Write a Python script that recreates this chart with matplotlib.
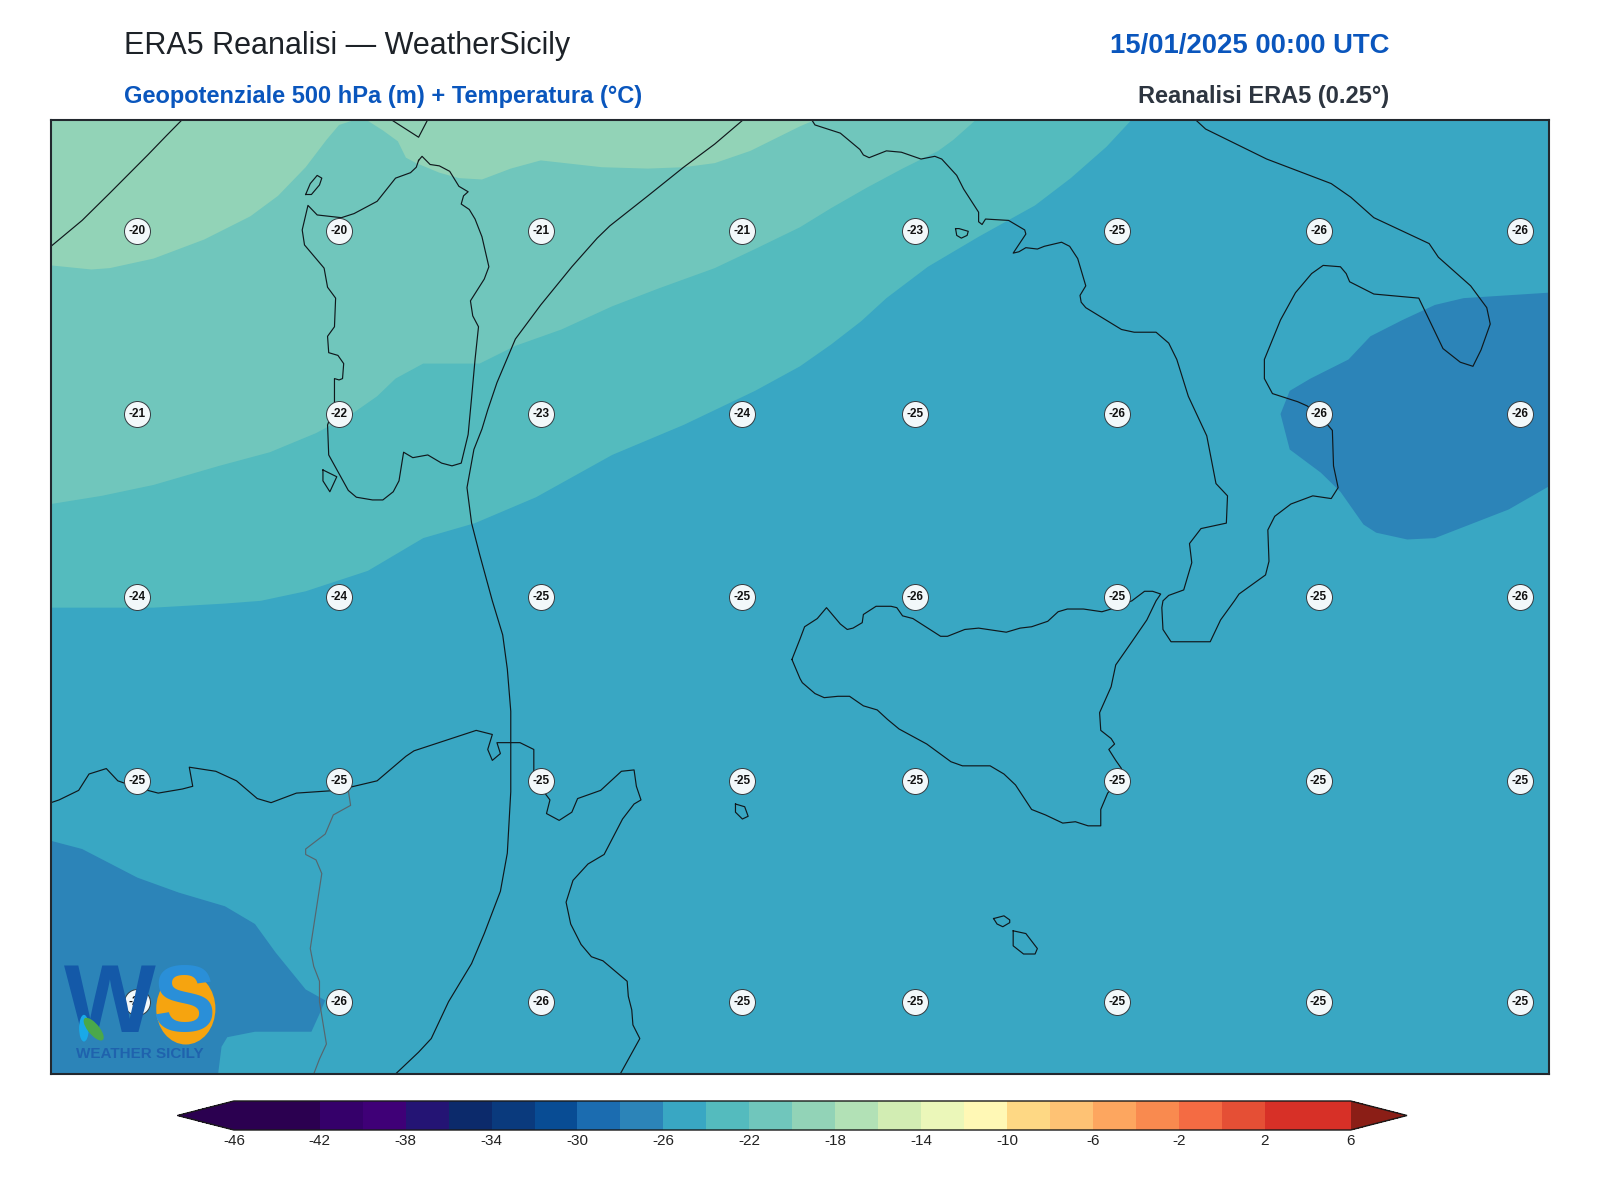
import matplotlib
matplotlib.use("Agg")
import matplotlib.pyplot as plt
from matplotlib.colors import BoundaryNorm, ListedColormap
from matplotlib.cm import ScalarMappable
from matplotlib.patches import Ellipse

plt.rcParams['font.family'] = ['Liberation Sans', 'DejaVu Sans']

# ---------- extent ----------
LON_MIN, LON_MAX, LAT_MIN, LAT_MAX = 6.0, 19.0, 35.0, 42.0

# ---------- temperature levels and colours ----------
levels = list(range(-46, 8, 2))
tick_values = list(range(-46, 10, 4))
band_colors = ['#2b0050', '#2b0050', '#35006a', '#3f0077', '#241474', '#0c2a6b', '#0a3a7d', '#084c94',
               '#1b6cb0', '#2c84b8', '#39a7c3', '#54bbbe', '#70c6bc', '#92d3b7', '#b2e1b6', '#d2edb3',
               '#ebf7b9', '#fff8b5', '#fed884', '#fec274', '#fda65f', '#f98a4f', '#f46b43', '#e54f35',
               '#d73027', '#d73027']
under_color = '#2b0050'
over_color = '#8b1e16'

# ---------- isotherms ----------
iso_m20_lon = [6.00, 6.35, 6.51, 6.89, 7.33, 7.73, 7.97, 8.21, 8.39, 8.50, 8.61, 8.75, 8.88, 9.01, 9.08, 9.17, 9.37,
               9.54, 9.74, 9.99, 10.25, 10.78, 11.18, 11.49, 11.76, 12.07, 12.50, 12.64]
iso_m20_lat = [40.93, 40.90, 40.91, 40.98, 41.12, 41.29, 41.44, 41.65, 41.85, 41.96, 41.99, 41.99, 41.92, 41.84, 41.72,
               41.68, 41.61, 41.57, 41.56, 41.64, 41.70, 41.65, 41.64, 41.65, 41.68, 41.77, 41.95, 42.00]
iso_m22_lon = [6.00, 6.44, 6.89, 7.46, 7.90, 8.30, 8.61, 8.83, 8.99, 9.23, 9.72, 10.03, 10.43, 10.87, 11.27, 11.76,
               12.11, 12.50, 12.77, 13.08, 13.39, 13.70, 13.83, 14.03]
iso_m22_lat = [39.18, 39.24, 39.32, 39.46, 39.56, 39.70, 39.84, 39.97, 40.10, 40.21, 40.21, 40.34, 40.46, 40.63, 40.76,
               40.91, 41.05, 41.21, 41.35, 41.50, 41.64, 41.77, 41.85, 42.00]
iso_m24_lon = [6.00, 6.89, 7.51, 7.82, 8.21, 8.75, 9.23, 9.68, 10.21, 10.87, 11.49, 12.11, 12.50, 12.77, 13.03, 13.25,
               13.61, 14.05, 14.54, 14.85, 15.16, 15.38]
iso_m24_lat = [38.42, 38.42, 38.45, 38.47, 38.54, 38.69, 38.93, 39.04, 39.23, 39.54, 39.76, 40.01, 40.19, 40.35, 40.52,
               40.69, 40.92, 41.14, 41.37, 41.57, 41.80, 42.00]
cold_east_lon = [19.0, 18.26, 18.01, 17.73, 17.45, 17.26, 16.93, 16.75, 16.67, 16.75, 17.02, 17.19, 17.39, 17.50,
                 17.77, 18.01, 18.65, 19.0]
cold_east_lat = [40.73, 40.69, 40.64, 40.53, 40.41, 40.24, 40.10, 40.01, 39.84, 39.58, 39.41, 39.27, 39.03, 38.97,
                 38.92, 38.93, 39.14, 39.31]
cold_west_lon = [6.00, 6.27, 6.75, 7.11, 7.51, 7.77, 7.95, 8.21, 8.38, 8.33, 8.26, 7.77, 7.53, 7.48, 7.45, 6.00]
cold_west_lat = [36.71, 36.65, 36.44, 36.33, 36.23, 36.10, 35.89, 35.62, 35.54, 35.44, 35.31, 35.31, 35.27, 35.20,
                 35.00, 35.00]

# ---------- geopotential isolines ----------
geo_a_lon = [7.14, 7.00, 6.84, 6.51, 6.27, 6.00]
geo_a_lat = [42.00, 41.88, 41.74, 41.46, 41.26, 41.07]
geo_b_lon = [12.01, 11.76, 11.49, 11.18, 10.85, 10.74, 10.52, 10.25, 10.03, 9.87, 9.79, 9.74, 9.67, 9.61, 9.65, 9.72,
             9.83, 9.92, 9.96, 9.99, 9.99, 9.96, 9.90, 9.76, 9.65, 9.45, 9.30, 9.19, 8.99]
geo_b_lat = [42.00, 41.82, 41.65, 41.44, 41.22, 41.13, 40.92, 40.64, 40.39, 40.07, 39.87, 39.73, 39.58, 39.30, 39.04,
             38.81, 38.47, 38.22, 37.97, 37.66, 37.07, 36.62, 36.34, 36.03, 35.81, 35.53, 35.26, 35.16, 35.00]

# ---------- coastlines ----------
sardinia_lon = [9.19, 9.22, 9.29, 9.37, 9.46, 9.54, 9.62, 9.58, 9.56, 9.63, 9.68, 9.74, 9.80, 9.76, 9.64, 9.66, 9.71,
                9.68, 9.65, 9.62, 9.56, 9.48, 9.39, 9.27, 9.14, 9.06, 9.02, 8.97, 8.88, 8.79, 8.65, 8.58, 8.41, 8.40,
                8.46, 8.46, 8.50, 8.53, 8.54, 8.49, 8.41, 8.40, 8.46, 8.47, 8.40, 8.37, 8.30, 8.20, 8.18, 8.23, 8.31,
                8.52, 8.63, 8.83, 8.99, 9.12, 9.17, 9.19]
sardinia_lat = [41.70, 41.73, 41.67, 41.66, 41.62, 41.51, 41.47, 41.44, 41.38, 41.34, 41.27, 41.14, 40.92, 40.83, 40.67,
                40.56, 40.48, 40.24, 39.96, 39.69, 39.48, 39.46, 39.48, 39.54, 39.52, 39.56, 39.35, 39.27, 39.21, 39.21,
                39.23, 39.28, 39.54, 39.76, 39.90, 40.10, 40.09, 40.10, 40.21, 40.27, 40.29, 40.41, 40.48, 40.69, 40.77,
                40.91, 40.98, 41.08, 41.19, 41.37, 41.30, 41.28, 41.31, 41.40, 41.57, 41.61, 41.65, 41.70]
asinara_lon = [8.21, 8.25, 8.31, 8.35, 8.33, 8.26, 8.21]
asinara_lat = [41.45, 41.53, 41.59, 41.57, 41.52, 41.45, 41.45]
antioco_lon = [8.36, 8.48, 8.42, 8.36, 8.36]
antioco_lat = [39.43, 39.38, 39.27, 39.35, 39.43]
corsica_lon = [8.95, 9.19, 9.27]
corsica_lat = [42.00, 41.87, 42.00]
italy_lon = [12.60, 12.63, 12.85, 13.02, 13.05, 13.10, 13.19, 13.25, 13.38, 13.55, 13.67, 13.73, 13.86, 13.92, 14.05,
             14.05, 14.08, 14.11, 14.31, 14.45, 14.46, 14.35, 14.40, 14.46, 14.56, 14.62, 14.77, 14.84, 14.91, 14.98,
             14.93, 14.94, 14.98, 15.29, 15.40, 15.59, 15.70, 15.77, 15.87, 16.03, 16.11, 16.21, 16.20, 15.98, 15.88,
             15.90, 15.83, 15.70, 15.65, 15.64, 15.65, 15.72, 16.06, 16.15, 16.27, 16.31, 16.54, 16.57, 16.56, 16.62,
             16.76, 16.95, 17.11, 17.17, 17.13, 17.12, 17.02, 16.90, 16.82, 16.60, 16.53, 16.53, 16.67, 16.80, 16.94,
             17.04, 17.19, 17.24, 17.27, 17.48, 17.87, 18.08, 18.23, 18.34, 18.41, 18.49, 18.46, 18.32, 18.04, 17.96,
             17.48, 17.28, 17.11, 16.55, 16.02, 15.93]
italy_lat = [42.00, 41.96, 41.90, 41.78, 41.74, 41.72, 41.75, 41.77, 41.76, 41.71, 41.73, 41.71, 41.59, 41.49, 41.32,
             41.25, 41.23, 41.27, 41.26, 41.19, 41.16, 41.02, 41.03, 41.06, 41.05, 41.07, 41.10, 41.07, 40.98, 40.78,
             40.71, 40.66, 40.62, 40.46, 40.44, 40.44, 40.36, 40.24, 39.97, 39.68, 39.33, 39.24, 39.04, 39.00, 38.89,
             38.75, 38.55, 38.51, 38.47, 38.42, 38.26, 38.17, 38.17, 38.33, 38.47, 38.52, 38.66, 38.76, 38.99, 39.09,
             39.18, 39.24, 39.22, 39.30, 39.46, 39.72, 39.82, 39.90, 39.93, 39.99, 40.10, 40.24, 40.53, 40.73, 40.87,
             40.93, 40.92, 40.87, 40.81, 40.72, 40.69, 40.32, 40.22, 40.19, 40.31, 40.50, 40.62, 40.78, 40.99, 41.09,
             41.28, 41.43, 41.53, 41.71, 41.93, 42.00]
ischia_lon = [13.85, 13.88, 13.96, 13.95, 13.90, 13.86, 13.85]
ischia_lat = [41.20, 41.20, 41.18, 41.15, 41.13, 41.15, 41.20]
sicily_lon = [12.43, 12.50, 12.52, 12.63, 12.71, 12.83, 12.93, 13.05, 13.17, 13.26, 13.36, 13.60, 13.81, 13.91, 14.15,
              14.27, 14.37, 14.51, 14.63, 14.78, 14.89, 15.00, 15.11, 15.11, 15.17, 15.25, 15.29, 15.24, 15.18, 15.23,
              15.20, 15.11, 15.10, 15.20, 15.24, 15.38, 15.51, 15.59, 15.63, 15.56, 15.49, 15.38, 15.20, 15.12, 14.96,
              14.82, 14.74, 14.65, 14.51, 14.41, 14.29, 14.05, 13.93, 13.78, 13.72, 13.48, 13.39, 13.34, 13.29, 13.16,
              13.05, 13.04, 12.96, 12.91, 12.85, 12.73, 12.65, 12.54, 12.50, 12.43]
sicily_lat = [38.04, 37.90, 37.87, 37.79, 37.76, 37.77, 37.77, 37.70, 37.67, 37.60, 37.53, 37.42, 37.29, 37.26, 37.26,
              37.20, 37.12, 36.94, 36.90, 36.84, 36.85, 36.82, 36.82, 36.94, 37.06, 37.14, 37.24, 37.30, 37.38, 37.42,
              37.46, 37.52, 37.65, 37.84, 38.00, 38.17, 38.33, 38.47, 38.52, 38.54, 38.54, 38.47, 38.41, 38.39, 38.41,
              38.41, 38.39, 38.32, 38.28, 38.27, 38.24, 38.27, 38.26, 38.21, 38.21, 38.34, 38.36, 38.42, 38.43, 38.43,
              38.37, 38.31, 38.27, 38.26, 38.30, 38.42, 38.34, 38.28, 38.19, 38.04]
pantelleria_lon = [11.94, 12.02, 12.05, 12.00, 11.94, 11.94]
pantelleria_lat = [36.98, 36.96, 36.89, 36.87, 36.92, 36.98]
gozo_lon = [14.18, 14.27, 14.32, 14.32, 14.26, 14.21, 14.18]
gozo_lat = [36.14, 36.16, 36.13, 36.11, 36.08, 36.10, 36.14]
malta_lon = [14.35, 14.46, 14.56, 14.54, 14.44, 14.35, 14.35]
malta_lat = [36.05, 36.03, 35.92, 35.88, 35.88, 35.94, 36.05]
africa_lon = [6.00, 6.07, 6.24, 6.33, 6.48, 6.58, 6.75, 6.93, 7.14, 7.23, 7.20, 7.43, 7.61, 7.79, 7.91, 8.13, 8.48, 8.83,
              9.08, 9.15, 9.69, 9.83, 9.79, 9.83, 9.90, 9.87, 10.07, 10.19, 10.19, 10.25, 10.33, 10.30, 10.41, 10.52,
              10.57, 10.77, 10.95, 11.06, 11.08, 11.12, 11.06, 10.96, 10.80, 10.66, 10.53, 10.47, 10.51, 10.60, 10.69,
              10.79, 11.00, 11.01, 11.04, 11.05, 11.11, 10.94]
africa_lat = [36.99, 37.01, 37.08, 37.20, 37.24, 37.15, 37.10, 37.06, 37.09, 37.11, 37.25, 37.22, 37.15, 37.02, 36.99,
              37.06, 37.08, 37.15, 37.33, 37.37, 37.52, 37.49, 37.38, 37.30, 37.35, 37.43, 37.43, 37.38, 37.21, 37.10,
              37.01, 36.91, 36.86, 36.92, 37.02, 37.08, 37.22, 37.23, 37.11, 37.01, 36.98, 36.87, 36.61, 36.54, 36.42,
              36.26, 36.10, 35.95, 35.86, 35.83, 35.68, 35.57, 35.47, 35.36, 35.26, 35.00]
border_lon = [8.58, 8.60, 8.45, 8.38, 8.21, 8.21, 8.30, 8.35, 8.29, 8.25, 8.28, 8.33, 8.33, 8.39, 8.33, 8.28]
border_lat = [37.08, 36.97, 36.90, 36.76, 36.65, 36.61, 36.57, 36.47, 36.14, 35.92, 35.79, 35.68, 35.53, 35.22, 35.11,
              35.00]

# ---------- temperature labels ----------
label_lons = [6.75, 8.50, 10.25, 12.00, 13.50, 15.25, 17.00, 18.75]
label_lats = [41.18, 39.84, 38.50, 37.15, 35.53]
label_values = [
    [-20, -20, -21, -21, -23, -25, -26, -26],
    [-21, -22, -23, -24, -25, -26, -26, -26],
    [-24, -24, -25, -25, -26, -25, -25, -26],
    [-25, -25, -25, -25, -25, -25, -25, -25],
    [-26, -26, -26, -25, -25, -25, -25, -25],
]

# ---------- figure ----------
W, H = 1600, 1200
fig = plt.figure(figsize=(16, 12), dpi=100, facecolor='white')
ax = fig.add_axes([51 / W, 1 - 1074 / H, 1498 / W, 954.5 / H])
ax.set_xlim(LON_MIN, LON_MAX)
ax.set_ylim(LAT_MIN, LAT_MAX)
ax.set_xticks([])
ax.set_yticks([])
for s in ax.spines.values():
    s.set_linewidth(1.5)
    s.set_color('#22282e')
    s.set_zorder(10)

cmap = ListedColormap(band_colors)
cmap.set_under(under_color)
cmap.set_over(over_color)
norm = BoundaryNorm(levels, cmap.N)


def band_fill(lons, lats, value, close_corners=True):
    xs, ys = list(lons), list(lats)
    if close_corners:
        xs += [LON_MAX, LON_MAX, LON_MIN]
        ys += [LAT_MAX, LAT_MIN, LAT_MIN]
    ax.fill(xs, ys, color=cmap(norm(value)), lw=0, zorder=1)


ax.set_facecolor(cmap(norm(-19)))
band_fill(iso_m20_lon, iso_m20_lat, -21)
band_fill(iso_m22_lon, iso_m22_lat, -23)
band_fill(iso_m24_lon, iso_m24_lat, -25)
band_fill(cold_east_lon, cold_east_lat, -27, close_corners=False)
band_fill(cold_west_lon, cold_west_lat, -27, close_corners=False)

for lo, la in [(geo_a_lon, geo_a_lat), (geo_b_lon, geo_b_lat), (sardinia_lon, sardinia_lat),
               (asinara_lon, asinara_lat), (antioco_lon, antioco_lat), (corsica_lon, corsica_lat),
               (italy_lon, italy_lat), (ischia_lon, ischia_lat), (sicily_lon, sicily_lat),
               (pantelleria_lon, pantelleria_lat), (gozo_lon, gozo_lat), (malta_lon, malta_lat),
               (africa_lon, africa_lat)]:
    ax.plot(lo, la, color='#10181c', lw=0.85, zorder=2, solid_joinstyle='round')
ax.plot(border_lon, border_lat, color='#56666e', lw=0.85, zorder=2)

for la, row in zip(label_lats, label_values):
    for lo, v in zip(label_lons, row):
        ax.scatter([lo], [la], s=350, facecolor='#f2f8fa', edgecolor='#333b40', linewidth=0.7, zorder=3)
        ax.text(lo, la, str(v), ha='center', va='center', fontsize=8.5, fontweight='bold', color='#111111', zorder=4)

# ---------- logo (redrawn as shapes and text) ----------
tr = ax.transAxes
ax.add_patch(Ellipse((0.0900, 0.0684), 0.0395, 0.0750, transform=tr, facecolor='#f6a40f', edgecolor='none', zorder=5))
ax.text(0.0395, 0.0706, 'W', transform=tr, ha='center', va='center', fontsize=70, fontweight='bold', color='#1459a8',
        zorder=6)
ax.text(0.0885, 0.0706, 'S', transform=tr, ha='center', va='center', fontsize=68, fontweight='bold', color='#2a8fd8',
        zorder=6)
ax.add_patch(Ellipse((0.0285, 0.0470), 0.0085, 0.0260, angle=25, transform=tr, facecolor='#4aa84a', edgecolor='none',
                     zorder=7))
ax.add_patch(Ellipse((0.0220, 0.0480), 0.0065, 0.0280, transform=tr, facecolor='#19a9e8', edgecolor='none', zorder=6.5))
ax.text(0.0590, 0.0205, 'WEATHER SICILY', transform=tr, ha='center', va='center', fontsize=11, fontweight='bold',
        color='#1f62ad', zorder=6)

# ---------- titles ----------
fig.text(124 / W, 1 - 46 / H, 'ERA5 Reanalisi — WeatherSicily', ha='left', va='center', fontsize=22,
         color='#1d2228')
fig.text(124 / W, 1 - 97 / H, 'Geopotenziale 500 hPa (m) + Temperatura (°C)', ha='left', va='center', fontsize=17,
         fontweight='bold', color='#0a56bd')
fig.text(1389 / W, 1 - 46.5 / H, '15/01/2025 00:00 UTC', ha='right', va='center', fontsize=19.8, fontweight='bold',
         color='#0a56bd')
fig.text(1389 / W, 1 - 97 / H, 'Reanalisi ERA5 (0.25°)', ha='right', va='center', fontsize=17, fontweight='bold',
         color='#2d3540')

# ---------- colour bar ----------
cax = fig.add_axes([177.5 / W, 1 - 1130 / H, 1229.5 / W, 29 / H])
cb = fig.colorbar(ScalarMappable(norm=norm, cmap=cmap), cax=cax, orientation='horizontal', extend='both',
                  extendfrac=0.0505, spacing='proportional', ticks=tick_values, drawedges=False)
cb.ax.minorticks_off()
cb.ax.tick_params(length=0, labelsize=11, pad=3, colors='#222222')
cb.ax.set_xticklabels([str(t) for t in tick_values])
cb.outline.set_edgecolor('#1a1a1a')
cb.outline.set_linewidth(1.0)

fig.savefig('out.png', dpi=100, facecolor='white')
